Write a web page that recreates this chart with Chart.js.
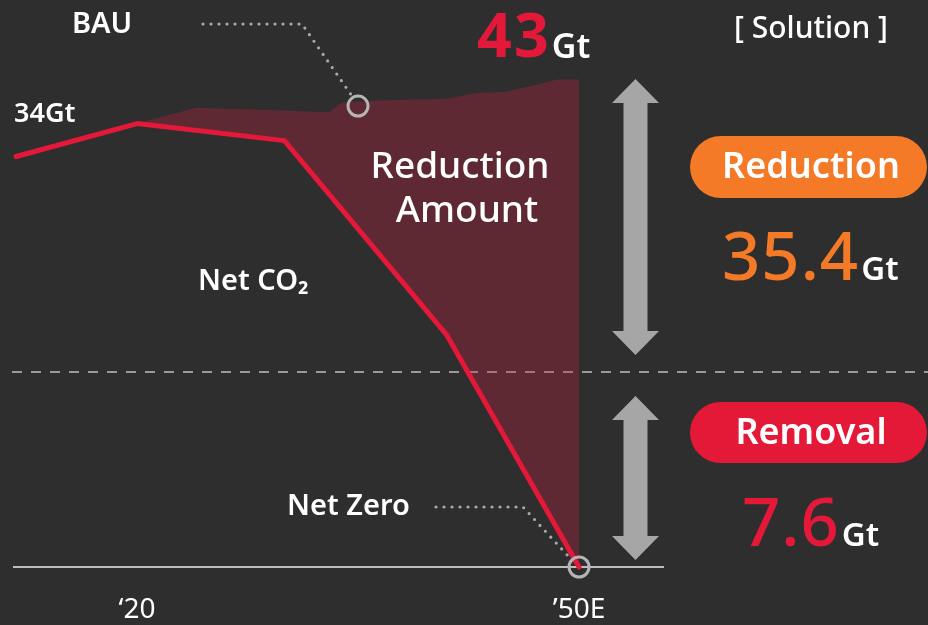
<!DOCTYPE html>
<html>
<head>
<meta charset="utf-8">
<script src="https://cdn.jsdelivr.net/npm/chart.js@4.4.1/dist/chart.umd.min.js"></script>
<style>
  html, body { margin: 0; padding: 0; background: #2e2e2e; }
  canvas { display: block; }
</style>
</head>
<body>
<canvas id="co2Chart" width="928" height="625"></canvas>
<script>
// Datos (Gt)
const tickYears = [2020, 2050];
const tickLabels = ['‘20', '’50E'];
const netYears = [2011.8, 2020, 2030, 2041, 2050];
const netValues = [36.2, 39.1, 37.6, 20.5, 0];
const bauYears = [2020, 2024, 2029, 2033, 2034, 2038, 2041, 2043, 2045, 2047, 2048.5, 2050];
const bauValues = [39.1, 40.5, 40.3, 40.1, 41.0, 41.2, 41.3, 41.8, 41.9, 42.5, 43.0, 43.0];
const markerYears = [2035, 2050];
const markerValues = [40.65, 0];
const startValue = 34;
const bauTotal = 43;
const reductionAmount = 35.4;
const removalAmount = 7.6;

const RED = '#e4193a';
const ORANGE = '#f47a27';
const FONT = '"Noto Sans", sans-serif';

const toPoints = (xs, ys) => xs.map((x, i) => ({ x: x, y: ys[i] }));

// texto simple
function txt(ctx, s, x, y, size, weight, color, align, base) {
    ctx.font = weight + ' ' + size + 'px ' + FONT;
    ctx.fillStyle = color;
    ctx.textAlign = align || 'left';
    ctx.textBaseline = base || 'middle';
    ctx.fillText(s, x, y);
    return ctx.measureText(s).width;
}

// línea de puntos
function dots(ctx, pts) {
    ctx.save();
    ctx.strokeStyle = '#a9a9a9';
    ctx.lineWidth = 3.2;
    ctx.lineCap = 'round';
    ctx.setLineDash([0, 8]);
    ctx.beginPath();
    pts.forEach((p, i) => i ? ctx.lineTo(p[0], p[1]) : ctx.moveTo(p[0], p[1]));
    ctx.stroke();
    ctx.restore();
}

// flecha doble vertical
function arrow(ctx, cx, top, bottom) {
    const hh = 24, hw = 23.5, sw = 12;
    ctx.fillStyle = '#a6a6a6';
    ctx.beginPath();
    ctx.moveTo(cx, top);
    ctx.lineTo(cx + hw, top + hh);
    ctx.lineTo(cx + sw, top + hh);
    ctx.lineTo(cx + sw, bottom - hh);
    ctx.lineTo(cx + hw, bottom - hh);
    ctx.lineTo(cx, bottom);
    ctx.lineTo(cx - hw, bottom - hh);
    ctx.lineTo(cx - sw, bottom - hh);
    ctx.lineTo(cx - sw, top + hh);
    ctx.lineTo(cx - hw, top + hh);
    ctx.closePath();
    ctx.fill();
}

function pill(ctx, x, y, w, h, color, label) {
    ctx.fillStyle = color;
    ctx.beginPath();
    ctx.roundRect(x, y, w, h, h / 2);
    ctx.fill();
    txt(ctx, label, 811, y + h / 2 + 1, 36, 600, '#ffffff', 'center');
}

const dividerPlugin = {
    id: 'divider',
    beforeDatasetsDraw(chart) {
        const ctx = chart.ctx;
        ctx.save();
        ctx.strokeStyle = '#9a9a9a';
        ctx.lineWidth = 2;
        ctx.setLineDash([10, 9]);
        ctx.beginPath();
        ctx.moveTo(12, 372);
        ctx.lineTo(928, 372);
        ctx.stroke();
        ctx.restore();
    }
};

const annotationPlugin = {
    id: 'annotations',
    afterDraw(chart) {
        const ctx = chart.ctx;
        const xs = chart.scales.x, ys = chart.scales.y;
        ctx.save();

        // leader BAU
        const bx = xs.getPixelForValue(markerYears[0]);
        const by = ys.getPixelForValue(markerValues[0]);
        dots(ctx, [[203, 24], [302, 24], [bx - 6, by - 10]]);
        // leader Net Zero
        const zx = xs.getPixelForValue(markerYears[1]);
        const zy = ys.getPixelForValue(markerValues[1]);
        dots(ctx, [[436, 507], [523, 507], [zx - 9, zy - 9]]);

        txt(ctx, 'BAU', 72, 25, 29, 600, '#ffffff');
        ctx.letterSpacing = '2px';
        let w = txt(ctx, String(bauTotal), 477, 57, 61, 700, RED, 'left', 'alphabetic');
        ctx.letterSpacing = '0px';
        txt(ctx, 'Gt', 477 + w + 1, 58, 34, 600, '#ffffff', 'left', 'alphabetic');
        txt(ctx, '[ Solution ]', 811, 29, 30, 500, '#ffffff', 'center');

        txt(ctx, startValue + 'Gt', 14, 114, 27, 600, '#ffffff');
        txt(ctx, 'Reduction', 460, 167, 37, 500, '#ffffff', 'center');
        txt(ctx, 'Amount', 467, 211, 37, 500, '#ffffff', 'center');
        txt(ctx, 'Net CO₂', 198, 282, 29, 600, '#ffffff');
        txt(ctx, 'Net Zero', 287, 507, 29, 600, '#ffffff');

        arrow(ctx, 635.5, 79, 355);
        arrow(ctx, 635.5, 396, 560);

        pill(ctx, 690, 136, 237, 62, ORANGE, 'Reduction');
        pill(ctx, 690, 402, 237, 61, '#e31937', 'Removal');

        ctx.letterSpacing = '1px';
        w = txt(ctx, reductionAmount.toFixed(1), 722, 280, 67, 500, ORANGE, 'left', 'alphabetic');
        ctx.letterSpacing = '0px';
        txt(ctx, 'Gt', 722 + w + 2, 280, 33, 600, '#ffffff', 'left', 'alphabetic');
        ctx.letterSpacing = '1px';
        w = txt(ctx, removalAmount.toFixed(1), 742, 546, 67, 500, RED, 'left', 'alphabetic');
        ctx.letterSpacing = '0px';
        txt(ctx, 'Gt', 742 + w + 2, 546, 33, 600, '#ffffff', 'left', 'alphabetic');

        ctx.restore();
    }
};

const ctx = document.getElementById('co2Chart').getContext('2d');
const co2Chart = new Chart(ctx, {
    type: 'line',
    data: {
        datasets: [{
            label: 'Net CO2',
            data: toPoints(netYears, netValues),
            borderColor: RED,
            borderWidth: 5,
            borderCapStyle: 'round',
            borderJoinStyle: 'round',
            pointRadius: 0,
            fill: false,
            clip: false,
            order: 1
        }, {
            label: 'BAU',
            data: toPoints(bauYears, bauValues),
            borderWidth: 0,
            borderColor: 'rgba(0,0,0,0)',
            backgroundColor: 'rgba(205, 30, 62, 0.3)',
            pointRadius: 0,
            fill: '-1',
            order: 2
        }, {
            label: 'markers',
            data: toPoints(markerYears, markerValues),
            showLine: false,
            pointRadius: 10,
            pointBorderWidth: 3,
            pointBorderColor: '#b5b5b5',
            pointBackgroundColor: 'rgba(0,0,0,0)',
            fill: false,
            clip: false,
            order: 0
        }]
    },
    options: {
        responsive: false,
        animation: false,
        devicePixelRatio: 1,
        layout: { autoPadding: false, padding: { left: 14, right: 265, top: 0, bottom: 0 } },
        plugins: {
            legend: { display: false },
            tooltip: { enabled: false }
        },
        scales: {
            x: {
                type: 'linear',
                min: 2011.65,
                max: 2055.7,
                grid: { display: false, drawTicks: false },
                border: { display: true, color: '#bdbdbd', width: 2 },
                afterBuildTicks: axis => { axis.ticks = tickYears.map(v => ({ value: v })); },
                afterFit: axis => { axis.height = 58; },
                ticks: {
                    autoSkip: false,
                    maxRotation: 0,
                    padding: 26,
                    color: '#ffffff',
                    font: { family: FONT, size: 28 },
                    callback: value => tickLabels[tickYears.indexOf(value)]
                }
            },
            y: { display: false, min: 0, max: 50 }
        }
    },
    plugins: [dividerPlugin, annotationPlugin]
});
</script>
</body>
</html>
